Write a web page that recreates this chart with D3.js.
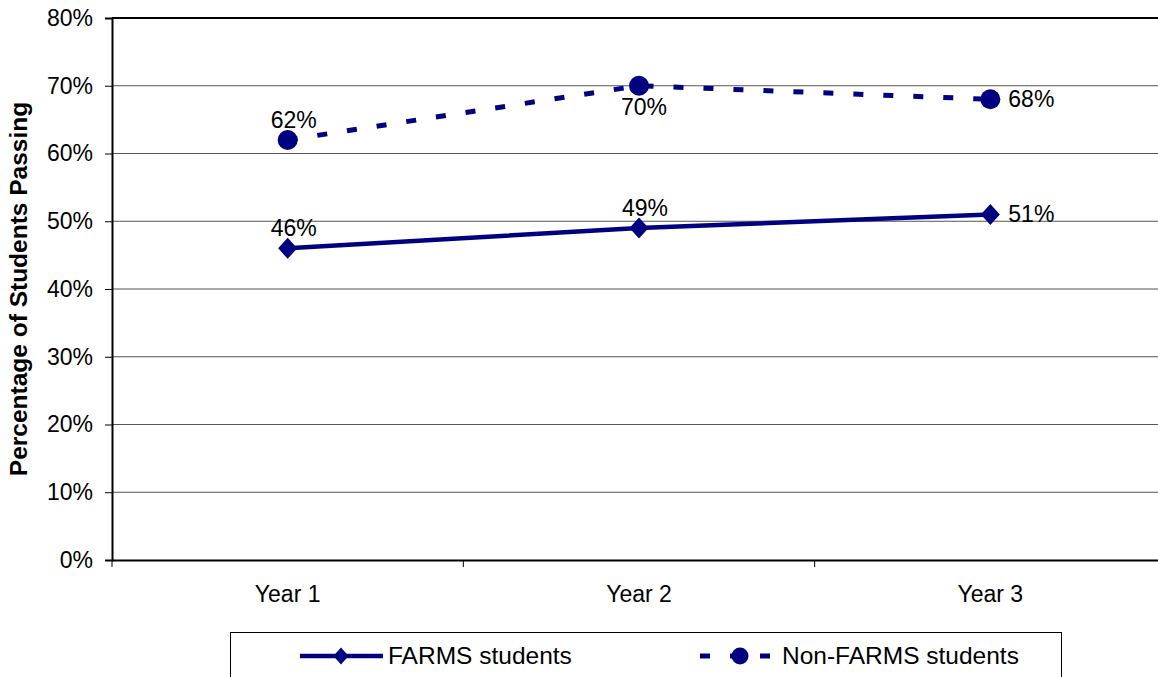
<!DOCTYPE html>
<html>
<head>
<meta charset="utf-8">
<script src="https://cdn.jsdelivr.net/npm/d3@7"></script>
<style>
  html, body { margin: 0; padding: 0; background: #fff; overflow: hidden; }
  svg { display: block; font-family: "Liberation Sans", Arial, sans-serif; }
</style>
</head>
<body>
<svg id="chart" width="1158" height="677"></svg>
<script>
// Pass rates by year
const years = ["Year 1", "Year 2", "Year 3"];
const farms = [46, 49, 51];
const nonFarms = [62, 70, 68];
const yTicks = [0, 10, 20, 30, 40, 50, 60, 70, 80];
const farmsLabelPos = ["above", "above", "right"];
const nonFarmsLabelPos = ["above", "below", "right"];

const W = 1158, H = 677;
const margin = { left: 112, top: 18, right: -8, bottom: 117 };
const plotW = W - margin.left - margin.right;
const plotH = H - margin.top - margin.bottom;
const navy = "#000080";
const FONT = "Liberation Sans, Arial, sans-serif";

const svg = d3.select("#chart");
const g = svg.append("g").attr("transform", `translate(${margin.left},${margin.top})`);

const x = d3.scaleBand().domain(years).range([0, plotW]).padding(0);
const y = d3.scaleLinear().domain([0, 80]).range([plotH, 0]);
const cx = d => x(d) + x.bandwidth() / 2;

// diamond marker: half-width w, half-height h
const diamondType = (w, h) => ({
  draw(ctx) {
    ctx.moveTo(0, -h); ctx.lineTo(w, 0); ctx.lineTo(0, h); ctx.lineTo(-w, 0); ctx.closePath();
  }
});

// gridlines
g.append("g").selectAll("line").data(yTicks.filter(t => t > 0 && t < 80)).join("line")
  .attr("x1", 0).attr("x2", plotW)
  .attr("y1", d => y(d)).attr("y2", d => y(d))
  .attr("stroke", "#555").attr("stroke-width", 1);

// top frame line
g.append("line").attr("x1", 0).attr("x2", plotW).attr("y1", y(80)).attr("y2", y(80))
  .attr("stroke", "#000").attr("stroke-width", 2);

// y axis
const yAxis = d3.axisLeft(y).tickValues(yTicks).tickFormat(d => d + "%").tickSize(7).tickPadding(12);
const ya = g.append("g").call(yAxis);
ya.select(".domain").attr("stroke", "#000").attr("stroke-width", 2);
ya.selectAll(".tick line").attr("stroke", "#000");
ya.selectAll("text").attr("font-size", 23).attr("fill", "#000").attr("font-family", FONT);

// x axis
const xAxis = d3.axisBottom(x).tickSize(0).tickPadding(26);
const xa = g.append("g").attr("transform", `translate(0,${plotH})`).call(xAxis);
xa.select(".domain").attr("stroke", "#000").attr("stroke-width", 2);
xa.selectAll("text").attr("font-size", 23).attr("fill", "#000").attr("font-family", FONT);
// category boundary ticks
g.append("g").selectAll("line").data(years).join("line")
  .attr("x1", d => x(d)).attr("x2", d => x(d))
  .attr("y1", plotH).attr("y2", plotH + 7)
  .attr("stroke", "#000").attr("stroke-width", 1);

// y axis title
svg.append("text")
  .attr("transform", `translate(27,${margin.top + plotH / 2}) rotate(-90)`)
  .attr("text-anchor", "middle")
  .attr("font-size", 24.5).attr("font-weight", "bold")
  .text("Percentage of Students Passing");

const line = d3.line().x((d, i) => cx(years[i])).y(d => y(d));

// Non-FARMS series (dashed, circles)
g.append("path").datum(nonFarms).attr("d", line)
  .attr("fill", "none").attr("stroke", navy).attr("stroke-width", 5)
  .attr("stroke-dasharray", "10,20");
g.append("g").selectAll("circle").data(nonFarms).join("circle")
  .attr("cx", (d, i) => cx(years[i])).attr("cy", d => y(d)).attr("r", 10)
  .attr("fill", navy);

// FARMS series (solid, diamonds)
g.append("path").datum(farms).attr("d", line)
  .attr("fill", "none").attr("stroke", navy).attr("stroke-width", 4.5);
const diamond = d3.symbol().type(diamondType(9.5, 10.5));
g.append("g").selectAll("path").data(farms).join("path")
  .attr("d", diamond())
  .attr("transform", (d, i) => `translate(${cx(years[i])},${y(d)})`)
  .attr("fill", navy);

// data labels
const labelDx = { above: 6, below: 5, right: 18 };
const labelDy = { above: -12, below: 29, right: 8 };
function labels(values, pos) {
  g.append("g").selectAll("text").data(values).join("text")
    .attr("x", (d, i) => cx(years[i]) + labelDx[pos[i]])
    .attr("y", (d, i) => y(d) + labelDy[pos[i]])
    .attr("text-anchor", (d, i) => pos[i] === "right" ? "start" : "middle")
    .attr("font-size", 23).attr("fill", "#000")
    .text(d => d + "%");
}
labels(farms, farmsLabelPos);
labels(nonFarms, nonFarmsLabelPos);

// legend
const lg = svg.append("g");
lg.append("rect").attr("x", 230.5).attr("y", 632.5).attr("width", 831).attr("height", 60)
  .attr("fill", "#fff").attr("stroke", "#000").attr("stroke-width", 1);
const ly = 656;
lg.append("line").attr("x1", 300).attr("x2", 383).attr("y1", ly).attr("y2", ly)
  .attr("stroke", navy).attr("stroke-width", 4.5);
lg.append("path").attr("d", d3.symbol().type(diamondType(7.5, 8.5))())
  .attr("transform", `translate(341,${ly})`).attr("fill", navy);
lg.append("text").attr("x", 388).attr("y", ly + 8).attr("font-size", 24.5).text("FARMS students");

lg.append("line").attr("x1", 700).attr("x2", 770).attr("y1", ly).attr("y2", ly)
  .attr("stroke", navy).attr("stroke-width", 5)
  .attr("stroke-dasharray", "10,20");
lg.append("circle").attr("cx", 740).attr("cy", ly).attr("r", 8.5).attr("fill", navy);
lg.append("text").attr("x", 782).attr("y", ly + 8).attr("font-size", 24.5).text("Non-FARMS students");
</script>
</body>
</html>
